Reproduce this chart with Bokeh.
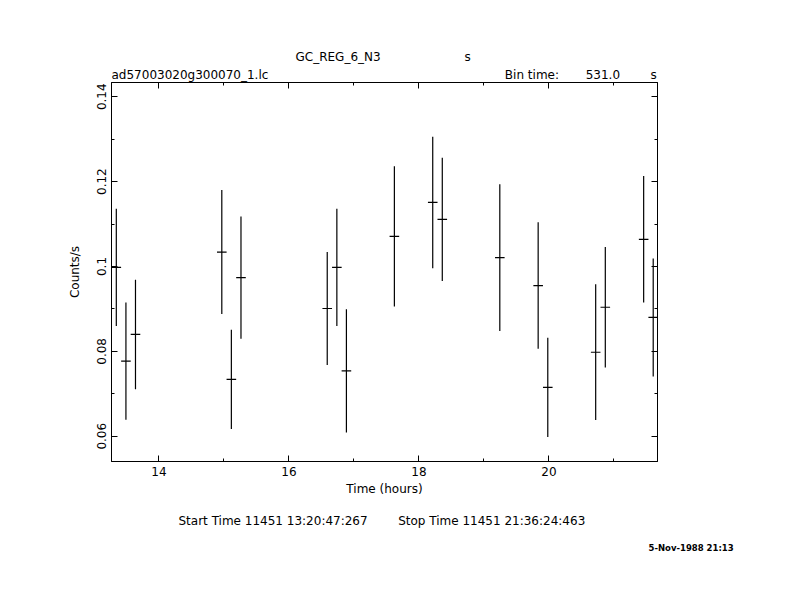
import numpy as np
from bokeh.plotting import figure
from bokeh.models import Range1d, LinearAxis, FixedTicker, Title, CustomJSTickFormatter
from bokeh.embed import file_html
from bokeh.resources import INLINE

# ---- data ----
time_hours = [13.345, 13.493, 13.640, 14.968, 15.115, 15.263, 16.590, 16.738,
              16.885, 17.623, 18.213, 18.360, 19.245, 19.835, 19.983, 20.720,
              20.868, 21.458, 21.605]
rate = [0.0998, 0.0777, 0.0840, 0.1034, 0.0734, 0.0974, 0.0901, 0.0998,
        0.0754, 0.1071, 0.1151, 0.1111, 0.1021, 0.0955, 0.0715, 0.0798,
        0.0904, 0.1064, 0.0880]
rate_err = [0.0138, 0.0138, 0.0129, 0.0146, 0.0117, 0.0144, 0.0133, 0.0138,
            0.0145, 0.0165, 0.0155, 0.0145, 0.0173, 0.0149, 0.0117, 0.0160,
            0.0142, 0.0149, 0.0139]
bin_time_s = 531.0
x_major = [14, 16, 18, 20]
x_minor = [15, 17, 19, 21]
y_major = [0.06, 0.08, 0.10, 0.12, 0.14]
y_minor = [0.07, 0.09, 0.11, 0.13]

t = np.array(time_hours)
r = np.array(rate)
e = np.array(rate_err)
hw = bin_time_s / 3600.0 / 2.0

FONT = "DejaVu Sans"
NB = "\u00a0"

p = figure(frame_width=546, frame_height=379,
           min_border_left=111, min_border_right=133,
           min_border_top=82, min_border_bottom=135,
           x_range=Range1d(13.271, 21.671), y_range=Range1d(0.05405, 0.14336),
           x_axis_location=None, y_axis_location=None,
           output_backend="svg", toolbar_location=None)
p.grid.visible = False
p.outline_line_color = "black"
p.outline_line_width = 1
p.background_fill_color = "white"
p.border_fill_color = "white"

fmt = CustomJSTickFormatter(code="return String(Math.round(tick*100)/100);")
blank = CustomJSTickFormatter(code="return '';")

bottom = LinearAxis(ticker=FixedTicker(ticks=x_major, minor_ticks=x_minor), formatter=fmt,
                    axis_label="Time (hours)", major_label_standoff=5, axis_label_standoff=3)
left = LinearAxis(ticker=FixedTicker(ticks=y_major, minor_ticks=y_minor), formatter=fmt,
                  axis_label="Counts/s", major_label_orientation="vertical",
                  major_label_standoff=5, axis_label_standoff=13)
top = LinearAxis(ticker=FixedTicker(ticks=x_major, minor_ticks=x_minor), formatter=blank,
                 major_label_standoff=0, major_label_text_font_size="0px")
right = LinearAxis(ticker=FixedTicker(ticks=y_major, minor_ticks=y_minor), formatter=blank,
                   major_label_standoff=0, major_label_text_font_size="0px")

for ax in [bottom, left, top, right]:
    ax.axis_line_color = "black"
    ax.major_tick_line_color = "black"
    ax.minor_tick_line_color = "black"
    ax.major_tick_in = 6
    ax.major_tick_out = 0
    ax.minor_tick_in = 3
    ax.minor_tick_out = 0
    ax.major_label_text_font = FONT
    ax.major_label_text_color = "black"
    ax.axis_label_text_font = FONT
    ax.axis_label_text_font_size = "12px"
    ax.axis_label_text_font_style = "normal"
    ax.axis_label_text_color = "black"
bottom.major_label_text_font_size = "12px"
left.major_label_text_font_size = "12px"

p.add_layout(bottom, "below")
p.add_layout(left, "left")
p.add_layout(top, "above")
p.add_layout(right, "right")

p.segment(x0=t, y0=r - e, x1=t, y1=r + e, line_color="black", line_width=1.2)
p.segment(x0=t - hw, y0=r, x1=t + hw, y1=r, line_color="black", line_width=1.2)


def title(text, offset, size="12px", standoff=2, style="normal"):
    return Title(text=text, align="left", offset=offset, standoff=standoff,
                 text_font=FONT, text_font_size=size, text_font_style=style,
                 text_color="black")


line2 = "ad57003020g300070_1.lc" + NB * 62 + "Bin time:" + NB * 7 + "531.0" + NB * 8 + "s"
line1 = "GC_REG_6_N3" + NB * 22 + "s"
p.add_layout(title(line2, 0, standoff=1), "above")
p.add_layout(title(line1, 184, standoff=3), "above")

bottom_line = "Start Time 11451 13:20:47:267" + NB * 8 + "Stop Time 11451 21:36:24:463"
p.add_layout(title(bottom_line, 67, standoff=26), "below")
p.add_layout(title("5-Nov-1988 21:13", 537, size="8.5px", standoff=0, style="bold"), "below")

open("out.html", "w").write(file_html(p, INLINE))
